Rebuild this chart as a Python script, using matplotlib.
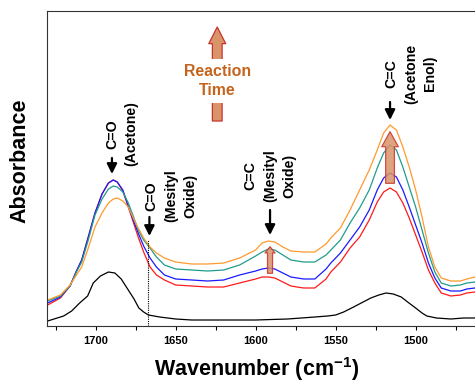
import matplotlib
matplotlib.use("Agg")
import matplotlib.pyplot as plt
from matplotlib.patches import FancyArrowPatch
from matplotlib.ticker import MultipleLocator

plt.rcParams["font.family"] = ["Liberation Sans", "DejaVu Sans"]
plt.rcParams["font.weight"] = "bold"
plt.rcParams["mathtext.fontset"] = "custom"
plt.rcParams["mathtext.rm"] = "Liberation Sans:bold"
plt.rcParams["mathtext.default"] = "rm"

# spectra (absorbance, arbitrary units)
wavenumber = [1730, 1722, 1716, 1712, 1708.7, 1704.6, 1700.4, 1696, 1692, 1689,
              1686.5, 1683, 1679.6, 1676.5, 1673.4, 1670, 1666, 1662, 1657, 1650,
              1640, 1630, 1620, 1610, 1600, 1596, 1592, 1588, 1583, 1578,
              1570, 1563, 1556, 1553, 1547, 1541, 1535, 1529, 1524, 1520,
              1516, 1512, 1508, 1504, 1500, 1496, 1492, 1488, 1484, 1478,
              1472, 1468, 1463]
orange = [.026, .031, .041, .051, .059, .078, .099, .113, .123, .127,
          .128, .125, .119, .108, .098, .088, .079, .073, .068, .064,
          .062, .062, .063, .068, .076, .083, .085, .084, .079, .075,
          .074, .074, .082, .088, .098, .116, .136, .156, .176, .193,
          .201, .196, .179, .159, .136, .109, .079, .059, .048, .045,
          .045, .047, .049]
teal = [.025, .030, .040, .054, .064, .086, .111, .127, .137, .140,
        .139, .134, .123, .110, .096, .086, .078, .069, .061, .057,
        .056, .055, .056, .061, .070, .074, .077, .076, .071, .066,
        .064, .064, .071, .076, .086, .103, .118, .136, .158, .173,
        .181, .176, .159, .139, .119, .096, .073, .054, .043, .040,
        .041, .043, .044]
blue = [.023, .029, .040, .055, .066, .089, .113, .132, .143, .146,
        .144, .136, .120, .106, .093, .080, .068, .059, .051, .047,
        .046, .045, .046, .051, .055, .057, .058, .057, .053, .049,
        .047, .047, .057, .063, .073, .086, .099, .116, .136, .148,
        .153, .149, .136, .119, .101, .083, .063, .048, .038, .035,
        .035, .037, .038]
red = [.021, .028, .040, .055, .066, .089, .113, .132, .143, .146,
       .144, .135, .119, .104, .089, .074, .059, .051, .046, .041,
       .040, .039, .039, .043, .047, .049, .049, .048, .044, .040,
       .038, .038, .047, .054, .064, .078, .089, .106, .124, .134,
       .138, .134, .123, .108, .091, .074, .056, .043, .033, .030,
       .031, .033, .034]

wavenumber_ref = [1730, 1720, 1715, 1710, 1705, 1701.5, 1697, 1692, 1688, 1684,
                  1680, 1676, 1673, 1670, 1667, 1660, 1650, 1640, 1620, 1600,
                  1580, 1563, 1555, 1550, 1545, 1540, 1534, 1528, 1523, 1518.5,
                  1514, 1509, 1505, 1500, 1496, 1493, 1487, 1478, 1470, 1463]
black = [.005, .010, .015, .023, .030, .043, .050, .054, .053, .047,
         .037, .027, .018, .014, .011, .009, .007, .006, .006, .006,
         .007, .009, .010, .011, .014, .018, .023, .028, .031, .033,
         .032, .029, .024, .018, .013, .010, .008, .007, .008, .008]

series = [(red, "#ff1a1a"), (blue, "#1a1aff"), (teal, "#1f9c8c"), (orange, "#ff9a2e")]
FILL, EDGE = "#d9946a", "#c8332b"
MESITYL_CO = 1667

fig = plt.figure(figsize=(4.75, 3.82), dpi=100)
ax = fig.add_axes([47 / 475, 56 / 382, 428 / 475, 315 / 382])

ax.plot(wavenumber_ref, black, color="black", lw=0.9)
for vals, col in series:
    ax.plot(wavenumber, vals, color=col, lw=0.9)

ax.set_xlim(1730.4, 1462.9)
ax.set_ylim(0, 0.315)
ax.xaxis.set_major_locator(MultipleLocator(50))
ax.xaxis.set_minor_locator(MultipleLocator(25))
ax.tick_params(axis="x", which="both", direction="out", length=3, width=0.8,
               labelsize=8, pad=4)
ax.set_yticks([])
ax.spines["right"].set_visible(False)
for s in ("left", "top", "bottom"):
    ax.spines[s].set_linewidth(0.8)
    ax.spines[s].set_color("#333333")

ax.plot([MESITYL_CO, MESITYL_CO], [0, 0.086], color="black", lw=0.8, ls=(0, (1, 1)))


def black_arrow(x, y_tail, y_tip):
    ax.annotate("", xy=(x, y_tip), xytext=(x, y_tail),
                arrowprops=dict(arrowstyle="-|>,head_length=0.6,head_width=0.3",
                                color="black", lw=1.6, shrinkA=0, shrinkB=0,
                                mutation_scale=10))


def block_arrow(x, y_base, y_tip, tail_w, head_w, head_l, alpha=0.85, z=5):
    style = f"simple,tail_width={tail_w},head_width={head_w},head_length={head_l}"
    ax.add_patch(FancyArrowPatch((x, y_base), (x, y_tip), arrowstyle=style,
                                 mutation_scale=10, fc=FILL, ec=EDGE, lw=0.9,
                                 alpha=alpha, shrinkA=0, shrinkB=0, zorder=z))


def label(x, y, s):
    ax.text(x, y, s, rotation=90, ha="center", va="center", multialignment="center",
            fontsize=10.2, fontweight="bold", linespacing=1.5)


label(1683.6, 0.192, "C=O\n(Acetone)")
label(1653, 0.130, "C=O\n(Mesityl\nOxide)")
label(1591, 0.150, "C=C\n(Mesityl\nOxide)")
label(1503, 0.2525, "C=C\n(Acetone\nEnol)")

black_arrow(1689.8, 0.168, 0.152)
black_arrow(1666.4, 0.109, 0.090)
black_arrow(1591, 0.116, 0.091)
black_arrow(1516, 0.224, 0.206)

block_arrow(1624, 0.205, 0.299, 0.7, 1.22, 1.2, alpha=1, z=4)
ax.text(1624, 0.245, "Reaction\nTime", color="#c5641c", fontsize=11.4, fontweight="bold",
        ha="center", va="center", linespacing=1.3, zorder=6,
        bbox=dict(boxstyle="square,pad=0.35", fc="white", ec="none"))
block_arrow(1516, 0.1427, 0.1943, 0.63, 1.2, 1.08)
block_arrow(1591, 0.0527, 0.0793, 0.36, 0.72, 0.45)

fig.text(0.541, 0.016, "Wavenumber (cm$^{-1}$)", ha="center", va="baseline",
         fontsize=15.5, fontweight="bold")
fig.text(20 / 475, 0.58, "Absorbance", rotation=90, ha="center", va="center",
         fontsize=15.5, fontweight="bold")

fig.savefig("out.png", dpi=100)
